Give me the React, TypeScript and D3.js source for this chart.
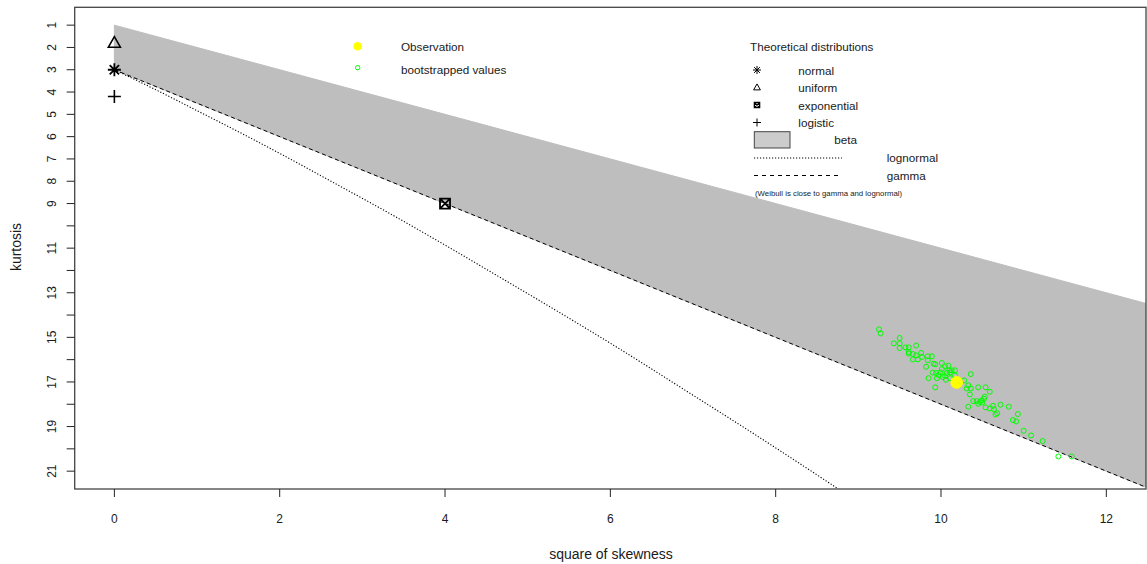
import React from 'react';
import * as d3 from 'd3';

// Cullen and Frey graph: square of skewness vs kurtosis

const xTicks = [0, 2, 4, 6, 8, 10, 12];
const yTicks = [1, 2, 3, 4, 5, 6, 7, 8, 9, 10, 11, 12, 13, 14, 15, 16, 17, 18, 19, 20, 21];
const yTickLabels = [1, 2, 3, 4, 5, 6, 7, 8, 9, 11, 13, 15, 17, 19, 21];

// theoretical distributions [skewness^2, kurtosis]
const normalPoint: [number, number] = [0, 3];
const uniformPoint: [number, number] = [0, 1.8];
const logisticPoint: [number, number] = [0, 4.2];
const exponentialPoint: [number, number] = [4, 9];

const betaUpper: [number, number][] = [[0, 1], [13, 14]];
const gammaLine: [number, number][] = [[0, 3], [13, 22.5]];
const lognormalLine: [number, number][] = [
  [0, 3], [0.47, 3.84], [0.96, 4.76], [1.49, 5.76], [2.05, 6.85], [2.64, 8.04],
  [3.27, 9.32], [3.93, 10.71], [4.62, 12.21], [5.36, 13.83], [6.13, 15.56],
  [6.93, 17.43], [7.78, 19.43], [8.66, 21.56], [9.58, 23.85],
];

const observation: [number, number] = [10.19, 17.02];

const bootstrapped: [number, number][] = [
  [9.25, 14.64], [9.27, 14.82], [9.5, 15.03], [9.43, 15.27], [9.5, 15.27], [9.5, 15.48],
  [9.57, 15.45], [9.61, 15.45], [9.7, 15.37], [9.61, 15.66], [9.61, 15.73], [9.66, 15.75],
  [9.7, 15.81], [9.76, 15.7], [9.77, 15.88], [9.66, 15.99], [9.72, 15.99], [9.84, 15.85],
  [9.89, 15.85], [9.84, 16.03], [9.91, 16.18], [9.93, 16.21], [9.82, 16.32], [10.01, 16.15],
  [10.05, 16.3], [10.09, 16.27], [10.01, 16.42], [10.1, 16.48], [10.13, 16.48], [10.17, 16.48],
  [9.99, 16.57], [10.07, 16.6], [10.11, 16.57], [9.9, 16.58], [9.94, 16.6], [9.97, 16.69],
  [10.05, 16.74], [10.17, 16.71], [9.85, 16.83], [9.95, 16.83], [10.02, 16.78], [10.11, 16.83],
  [10.06, 16.9], [10.36, 16.65], [10.28, 16.93], [9.93, 17.24], [10.33, 17.15], [10.36, 17.29],
  [10.31, 17.29], [10.45, 17.24], [10.54, 17.24], [10.59, 17.44], [10.35, 17.56], [10.53, 17.66],
  [10.52, 17.75], [10.49, 17.83], [10.39, 17.86], [10.43, 17.86], [10.47, 17.9], [10.45, 17.98],
  [10.5, 17.92], [10.33, 18.11], [10.54, 18.14], [10.59, 18.19], [10.63, 18.07], [10.64, 18.22],
  [10.72, 18.02], [10.82, 18.11], [10.68, 18.4], [10.66, 18.46], [10.93, 18.44], [10.87, 18.71],
  [10.91, 18.77], [11.0, 19.19], [11.09, 19.4], [11.23, 19.65], [11.42, 20.34], [11.58, 20.34],
];

const obsLegend = ['Observation', 'bootstrapped values'];
const theoLegend = ['normal', 'uniform', 'exponential', 'logistic'];
const theoSymbols = ['asterisk', 'triangle', 'boxx', 'plus'];

const FONT = '"Liberation Sans", Arial, sans-serif';
const TXT = '#1a1a1a';

const W = 1147;
const H = 564;
const left = 74.7;
const right = 1146;
const top = 7.3;
const bottom = 489;

const Symbol = ({ type, cx, cy, r, sw }: { type: string; cx: number; cy: number; r: number; sw: number }) => {
  let d = '';
  if (type === 'asterisk') {
    const k = r * 0.72;
    d = `M${cx - r},${cy}H${cx + r}M${cx},${cy - r}V${cy + r}M${cx - k},${cy - k}L${cx + k},${cy + k}M${cx - k},${cy + k}L${cx + k},${cy - k}`;
  } else if (type === 'plus') {
    d = `M${cx - r},${cy}H${cx + r}M${cx},${cy - r}V${cy + r}`;
  } else if (type === 'triangle') {
    const h = r * 1.75;
    d = `M${cx},${cy - h * 0.6}L${cx + r},${cy + h * 0.4}L${cx - r},${cy + h * 0.4}Z`;
  } else if (type === 'boxx') {
    d = `M${cx - r},${cy - r}H${cx + r}V${cy + r}H${cx - r}ZM${cx - r},${cy - r}L${cx + r},${cy + r}M${cx - r},${cy + r}L${cx + r},${cy - r}`;
  }
  return <path d={d} fill="none" stroke="#000" strokeWidth={sw} strokeLinejoin="miter" />;
};

export default function App() {
  const x = d3.scaleLinear().domain([-0.48, 12.48]).range([left, right]);
  const y = d3.scaleLinear().domain([0.2, 21.8]).range([top, bottom]);

  const line = d3.line<[number, number]>().x(d => x(d[0])).y(d => y(d[1]));
  const curve = d3.line<[number, number]>().x(d => x(d[0])).y(d => y(d[1])).curve(d3.curveMonotoneX);

  const betaPoly = [...betaUpper, ...[...gammaLine].reverse()];
  const betaPath = line(betaPoly) + 'Z';

  const theoRows = [70, 87.5, 105, 122.5];

  return (
    <div style={{ position: 'absolute', left: 0, top: 0 }}>
      <svg width={W} height={H} style={{ display: 'block', background: '#fff' }} fontFamily={FONT}>
        <defs>
          <clipPath id="plotclip">
            <rect x={left} y={top} width={right - left} height={bottom - top} />
          </clipPath>
        </defs>

        <g clipPath="url(#plotclip)">
          <path d={betaPath} fill="#bebebe" stroke="#bebebe" strokeWidth={1} />
          <path d={line(gammaLine) || ''} fill="none" stroke="#000" strokeWidth={1} strokeDasharray="4,3" />
          <path d={curve(lognormalLine) || ''} fill="none" stroke="#000" strokeWidth={1.1} strokeDasharray="1.2,1.8" />

          <Symbol type="triangle" cx={x(uniformPoint[0])} cy={y(uniformPoint[1])} r={6} sw={1.6} />
          <Symbol type="asterisk" cx={x(normalPoint[0])} cy={y(normalPoint[1])} r={6.5} sw={1.8} />
          <Symbol type="plus" cx={x(logisticPoint[0])} cy={y(logisticPoint[1])} r={6.5} sw={1.6} />
          <Symbol type="boxx" cx={x(exponentialPoint[0])} cy={y(exponentialPoint[1])} r={5} sw={1.8} />

          {bootstrapped.map((p, i) => (
            <circle key={i} cx={x(p[0])} cy={y(p[1])} r={2.5} fill="none" stroke="#00ff00" strokeWidth={1} />
          ))}
          <circle cx={x(observation[0])} cy={y(observation[1])} r={6.3} fill="#ffff00" />
        </g>

        {/* frame */}
        <rect x={left} y={top} width={right - left} height={bottom - top} fill="none" stroke="#444" strokeWidth={1.3} />

        {/* y axis */}
        {yTicks.map(t => (
          <line key={t} x1={left - 8} x2={left} y1={y(t)} y2={y(t)} stroke="#222" strokeWidth={1} />
        ))}
        {yTickLabels.map(t => (
          <text key={t} transform={`translate(${55.5},${y(t)}) rotate(-90)`} textAnchor="middle" fontSize={12} fill={TXT}>
            {t}
          </text>
        ))}
        <text transform={`translate(20.5,247) rotate(-90)`} textAnchor="middle" fontSize={14} fill={TXT}>kurtosis</text>

        {/* x axis */}
        {xTicks.map(t => (
          <g key={t}>
            <line x1={x(t)} x2={x(t)} y1={bottom} y2={bottom + 8} stroke="#222" strokeWidth={1} />
            <text x={x(t)} y={522.5} textAnchor="middle" fontSize={12} fill={TXT}>{t}</text>
          </g>
        ))}
        <text x={611} y={559} textAnchor="middle" fontSize={14} fill={TXT}>square of skewness</text>

        {/* observation legend */}
        <circle cx={357.7} cy={46.3} r={4.3} fill="#ffff00" />
        <text x={401} y={50.8} fontSize={11.7} fill={TXT}>{obsLegend[0]}</text>
        <circle cx={357.7} cy={67.7} r={2.2} fill="none" stroke="#00ff00" strokeWidth={1} />
        <text x={401} y={73.5} fontSize={11.7} fill={TXT}>{obsLegend[1]}</text>

        {/* theoretical legend */}
        <text x={750} y={51} fontSize={11.7} fill={TXT}>Theoretical distributions</text>
        {theoLegend.map((name, i) => (
          <g key={name}>
            <Symbol type={theoSymbols[i]} cx={757} cy={theoRows[i]} r={i === 2 ? 2.6 : i === 1 ? 3.4 : 4} sw={i === 2 ? 1.4 : 1} />
            <text x={798.3} y={theoRows[i] + 4.5} fontSize={11.7} fill={TXT}>{name}</text>
          </g>
        ))}
        <rect x={754.3} y={131.7} width={35.7} height={16.3} fill="#cccccc" stroke="#444" strokeWidth={1} />
        <text x={834.3} y={144.3} fontSize={11.7} fill={TXT}>beta</text>
        <line x1={754} x2={842} y1={158} y2={158} stroke="#000" strokeWidth={1} strokeDasharray="1.2,1.8" />
        <text x={886.7} y={162} fontSize={11.7} fill={TXT}>lognormal</text>
        <line x1={754} x2={842} y1={175.5} y2={175.5} stroke="#000" strokeWidth={1} strokeDasharray="4,4" />
        <text x={886.7} y={180} fontSize={11.7} fill={TXT}>gamma</text>
        <text x={755} y={196} fontSize={7.8} fill={TXT}>(Weibull is close to gamma and lognormal)</text>
      </svg>
    </div>
  );
}
